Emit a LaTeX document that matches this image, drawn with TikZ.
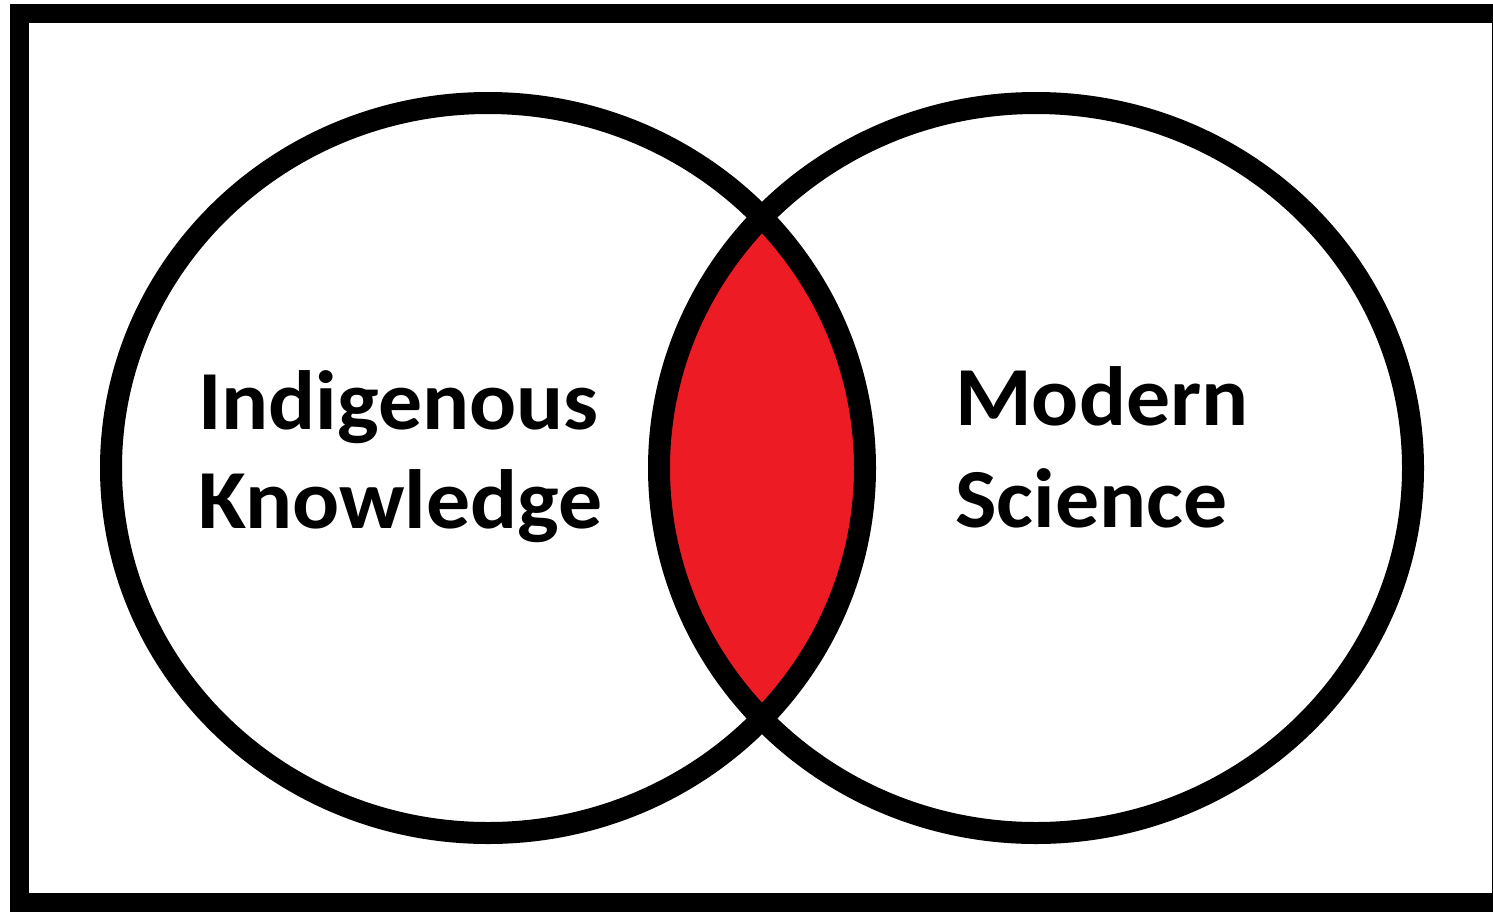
\documentclass[tikz,border=0pt]{standalone}
\usepackage{fontspec}
\setmainfont{Carlito}
\newfontfamily\vennfont[FakeStretch=1.045]{Carlito}
\definecolor{vennred}{HTML}{ED1C24}
\begin{document}
\begin{tikzpicture}[x=1pt,y=-1pt,
  ring/.style={line width=22pt, draw=black},
  frameline/.style={line width=19pt, draw=black},
  vtext/.style={font=\vennfont\bfseries\fontsize{84}{100}\selectfont, inner sep=0pt, anchor=base west, text=black}]
\useasboundingbox (0,0) rectangle (1493,911);
\begin{scope}
  \clip (0,0) rectangle (1493,911);
  \fill[white] (0,0) rectangle (1493,911);
  \draw[frameline] (19.5,13) rectangle (1501,902);
\end{scope}
\coordinate (cl) at (488,468);
\coordinate (cr) at (1036,468);
\begin{scope}
  \clip (cl) ellipse [x radius=377pt, y radius=365pt];
  \fill[vennred] (cr) ellipse [x radius=377pt, y radius=365pt];
\end{scope}
\draw[ring] (cl) ellipse [x radius=377pt, y radius=365pt];
\draw[ring] (cr) ellipse [x radius=377pt, y radius=365pt];
\node[vtext] (ik1) at (198,429) {Indigenous};
\node[vtext] (ik2) at (198,528) {Knowledge};
\node[vtext] (ms1) at (955,425) {Modern};
\node[vtext] (ms2) at (955,527) {Science};
\end{tikzpicture}
\end{document}
